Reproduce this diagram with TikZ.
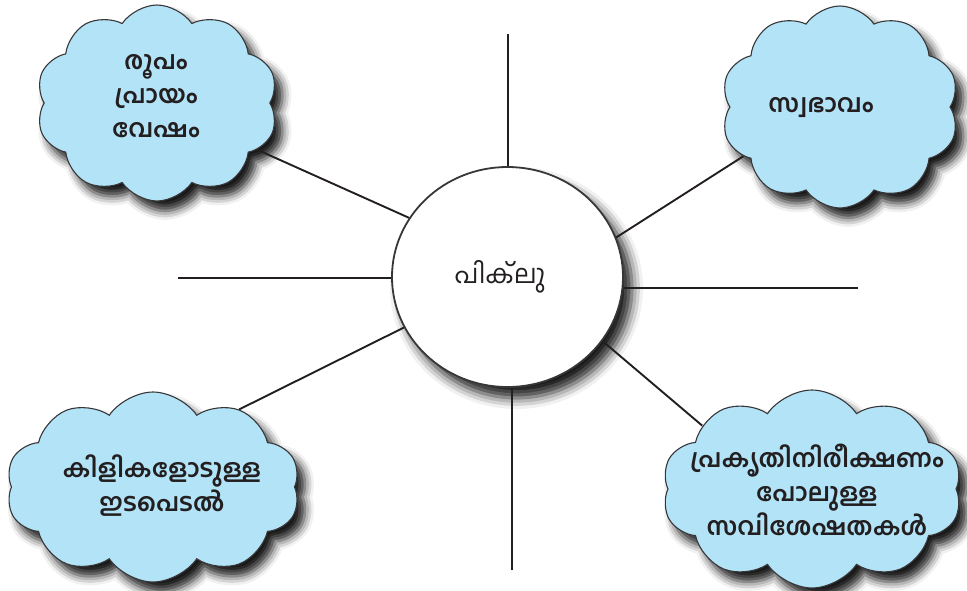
\documentclass[tikz,border=0pt]{standalone}
\usepackage{fontspec}
\newfontfamily\mlfont[Script=Malayalam]{Hind Kochi}
\usetikzlibrary{shapes.symbols,shapes.geometric,shadows.blur}
\definecolor{cloudblue}{RGB}{179,227,247}
\definecolor{inkline}{RGB}{35,31,32}
\definecolor{rimgray}{RGB}{55,55,58}
\begin{document}
\begin{tikzpicture}[x=1pt,y=-1pt,
  cloudbox/.style={cloud, cloud puffs=10, cloud puff arc=112, cloud ignores aspect,
    draw=rimgray, line width=1.1pt, fill=cloudblue, inner sep=0pt,
    blur shadow={shadow xshift=8pt, shadow yshift=-10pt, shadow blur radius=9pt, shadow opacity=90}},
  cloudtext/.style={font=\mlfont\bfseries\fontsize{25}{34}\selectfont, align=center, text=inkline, inner sep=0pt},
  hubbox/.style={ellipse, draw=rimgray, line width=1.8pt, fill=white, inner sep=0pt,
    minimum width=231pt, minimum height=220pt,
    blur shadow={shadow xshift=9pt, shadow yshift=-11pt, shadow blur radius=11pt, shadow opacity=90}},
  hubtext/.style={font=\mlfont\fontsize{26}{30}\selectfont, text=inkline, inner sep=0pt},
  spoke/.style={draw=inkline, line width=2.6pt},
  link/.style={draw=inkline, line width=1.9pt}
]
\useasboundingbox (0,0) rectangle (967,590);

% hub
\node[hubbox] (hub) at (507.5,277) {};
\node[hubtext] (hubt) at (500,277) {പിക്^^^^200cലു};

% clouds
\node[cloudbox, minimum width=242pt, minimum height=196pt] (tl) at (157,103) {};
\node[cloudbox, minimum width=238pt, minimum height=202pt] (tr) at (840,107) {};
\node[cloudbox, minimum width=294pt, minimum height=190pt] (bl) at (153,487) {};
\node[cloudbox, minimum width=300pt, minimum height=198pt] (br) at (812,489) {};

\node[cloudtext] (tlt) at (156,96) {രൂപം\\പ്രായം\\വേഷം};
\node[cloudtext] (trt) at (821,108) {സ്വഭാവം};
\node[cloudtext] (blt) at (162,486) {കിളികളോടുള്ള\\ഇടപെടൽ};
\node[cloudtext] (brt) at (817,490) {പ്രകൃതിനിരീക്ഷണം\\പോലുള്ള\\സവിശേഷതകൾ};

% free spoke ends
\coordinate (sN) at (508,34);
\coordinate (sS) at (512,570);
\coordinate (sW) at (178,278);
\coordinate (sE) at (858,288);

\draw[spoke] (sN) -- (sN |- hub.north);
\draw[spoke] (sS) -- (sS |- hub.south);
\draw[spoke] (sW) -- (hub.west |- sW);
\draw[spoke] (sE) -- (hub.east |- sE);

% links to clouds
\draw[link] (hub.149) -- (tl.-25);
\draw[link] (hub.20) -- (tr.207);
\draw[link] (hub.206) -- (bl.42);
\draw[link] (hub.-34) -- (br.150);
\end{tikzpicture}
\end{document}
